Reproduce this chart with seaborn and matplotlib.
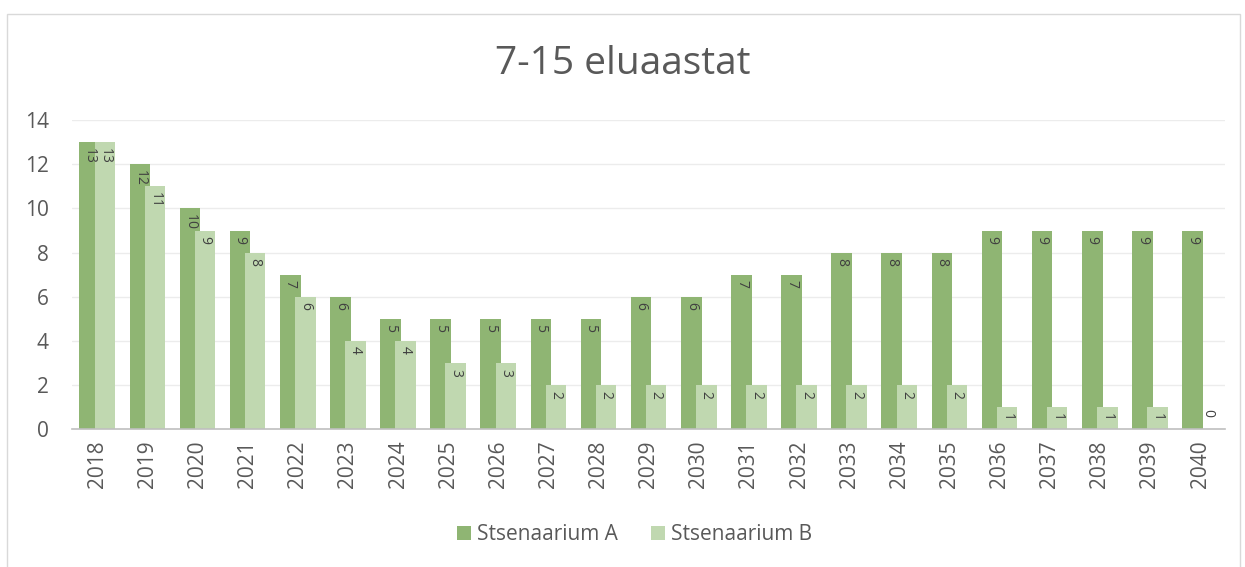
import pandas as pd
import seaborn as sns
import matplotlib.pyplot as plt
from matplotlib.patches import Rectangle, Patch

years = [str(y) for y in range(2018, 2041)]
scen_a = [13, 12, 10, 9, 7, 6, 5, 5, 5, 5, 5, 6, 6, 7, 7, 8, 8, 8, 9, 9, 9, 9, 9]
scen_b = [13, 11, 9, 8, 6, 4, 4, 3, 3, 2, 2, 2, 2, 2, 2, 2, 2, 2, 1, 1, 1, 1, 0]
series = ['Stsenaarium A', 'Stsenaarium B']
colors = ['#8fb573', '#c0d8b0']

df = pd.DataFrame({'year': years * 2,
                   'value': scen_a + scen_b,
                   'series': [series[0]] * len(years) + [series[1]] * len(years)})

sns.set_style('white')
plt.rcParams['font.family'] = ['Open Sans', 'DejaVu Sans']

fig = plt.figure(figsize=(12.45, 5.67), dpi=100)
ax = fig.add_axes([0.058, 0.243, 0.926, 0.545])

sns.barplot(data=df, x='year', y='value', hue='series', palette=colors,
            width=0.6, ax=ax, legend=False, saturation=1)

# widen bars a little so they overlap like the original
for cont in ax.containers:
    for p in cont.patches:
        cx = p.get_x() + p.get_width() / 2
        p.set_width(0.41)
        p.set_x(cx - 0.205)
        p.set_edgecolor('none')

for cont in ax.containers:
    for p in cont.patches:
        h = p.get_height()
        cx = p.get_x() + p.get_width() / 2
        if h > 0:
            ax.annotate(f'{h:.0f}', (cx, h), xytext=(0, -4), textcoords='offset points',
                        ha='center', va='top', rotation=270, fontsize=10, color='#404040')
        else:
            ax.annotate('0', (cx, 0), xytext=(0, 9), textcoords='offset points',
                        ha='center', va='bottom', rotation=270, fontsize=10, color='#404040')

ax.set_ylim(0, 14)
ax.set_xlim(-0.5, len(years) - 0.5)
ax.set_yticks(range(0, 15, 2))
ax.yaxis.grid(True, color='#ececec', linewidth=1)
ax.set_axisbelow(True)
for s in ['top', 'right', 'left']:
    ax.spines[s].set_visible(False)
ax.spines['bottom'].set_color('#bfbfbf')
ax.spines['bottom'].set_linewidth(1.2)
ax.tick_params(axis='x', rotation=90, labelsize=15, colors='#595959', length=0, pad=8)
ax.tick_params(axis='y', labelsize=15, colors='#595959', length=0, pad=17)
ax.set_xlabel('')
ax.set_ylabel('')

fig.text(0.5, 0.888, '7-15 eluaastat', ha='center', va='center', fontsize=28, color='#595959')

handles = [Patch(facecolor=c, edgecolor='none') for c in colors]
fig.legend(handles, series, loc='center', bbox_to_anchor=(0.51, 0.057), ncol=2, frameon=False,
           fontsize=15, labelcolor='#595959', handlelength=0.65, handleheight=0.65,
           columnspacing=1.6, handletextpad=0.3)

fig.patches.append(Rectangle((0.006, -0.01), 0.99, 0.985, transform=fig.transFigure,
                             fill=False, edgecolor='#d9d9d9', linewidth=1))

fig.savefig('out.png', dpi=100)
